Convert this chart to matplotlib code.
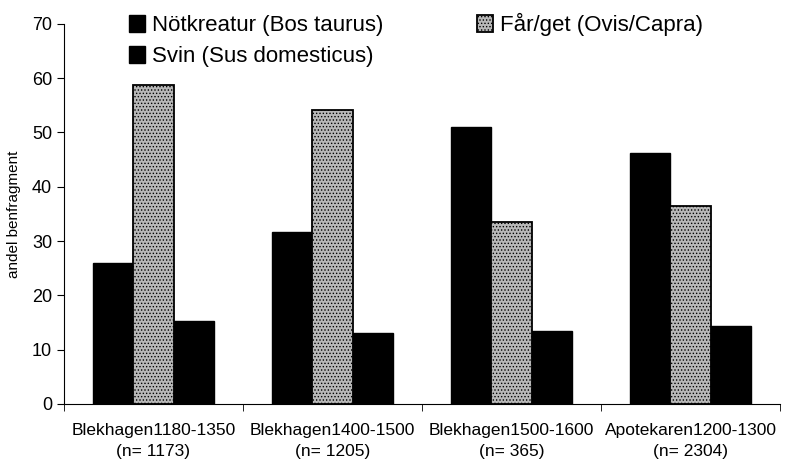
import numpy as np
import matplotlib.pyplot as plt

plt.rcParams['font.family'] = ['Liberation Sans', 'DejaVu Sans']
plt.rcParams['hatch.linewidth'] = 0.6
plt.rcParams['hatch.color'] = '#555555'

sites = ["Blekhagen1180-1350\n(n= 1173)", "Blekhagen1400-1500\n(n= 1205)",
         "Blekhagen1500-1600\n(n= 365)", "Apotekaren1200-1300\n(n= 2304)"]
cattle = [26.0, 31.7, 51.0, 46.3]
sheep = [58.7, 54.2, 33.5, 36.4]
pig = [15.2, 13.0, 13.5, 14.3]

fig = plt.figure(figsize=(7.88, 4.67), dpi=100)
ax = fig.add_axes([0.081, 0.135, 0.909, 0.814])

x = np.arange(len(sites))
w = 0.225
b1 = ax.bar(x - w, cattle, w, color='black', edgecolor='black', label='Nötkreatur (Bos taurus)')
b2 = ax.bar(x, sheep, w, color='#b8b8b8', edgecolor='black', hatch='.....', linewidth=1.3,
            label='Får/get (Ovis/Capra)')
b3 = ax.bar(x + w, pig, w, color='black', edgecolor='black', label='Svin (Sus domesticus)')

ax.set_xlim(-0.5, 3.5)
ax.set_ylim(0, 70)
ax.set_yticks(range(0, 71, 10))
ax.set_xticks(x)
ax.set_xticklabels(sites, fontsize=12.5, linespacing=1.45)
ax.set_xticks(np.arange(-0.5, 3.6, 1), minor=True)
ax.tick_params(axis='x', which='major', length=0, pad=14)
ax.tick_params(axis='x', which='minor', length=5, direction='out')
ax.tick_params(axis='y', labelsize=13, length=5, direction='out')
ax.set_ylabel('andel benfragment', fontsize=11, labelpad=8)
for s in ['top', 'right']:
    ax.spines[s].set_visible(False)

fig.legend(handles=[b1, b3, b2], loc='upper left', bbox_to_anchor=(0.138, 1.015), ncol=2,
           frameon=False, fontsize=16, handlelength=0.75, handleheight=0.75,
           handletextpad=0.3, columnspacing=4.2, labelspacing=0.45)

fig.savefig('out.png')
